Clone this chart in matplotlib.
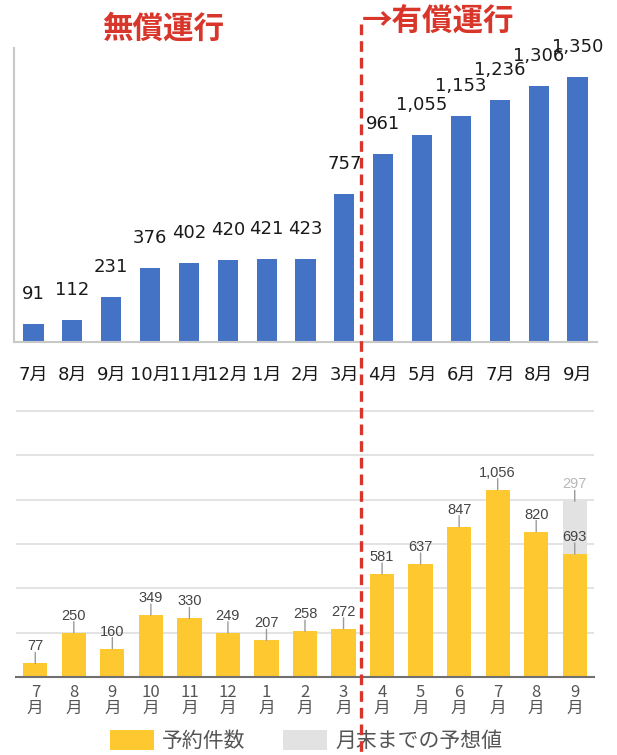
import matplotlib
matplotlib.use("Agg")
import matplotlib.pyplot as plt
from matplotlib.lines import Line2D
from matplotlib.patches import Patch

plt.rcParams['font.family'] = ['DejaVu Sans', 'Noto Sans CJK JP']

# Cumulative riders per month (upper chart)
months_top = ['7月', '8月', '9月', '10月', '11月', '12月', '1月', '2月', '3月',
              '4月', '5月', '6月', '7月', '8月', '9月']
cumulative = [91, 112, 231, 376, 402, 420, 421, 423, 757,
              961, 1055, 1153, 1236, 1306, 1350]

# Monthly bookings (lower chart)
months_num = ['7', '8', '9', '10', '11', '12', '1', '2', '3',
              '4', '5', '6', '7', '8', '9']
bookings = [77, 250, 160, 349, 330, 249, 207, 258, 272,
            581, 637, 847, 1056, 820, 693]
forecast = [0, 0, 0, 0, 0, 0, 0, 0, 0, 0, 0, 0, 0, 0, 297]

title_free = '無償運行'
title_paid = '→有償運行'
legend_labels = ['予約件数', '月末までの予想値']

BLUE = '#4472C4'
YELLOW = '#FDC830'
LIGHT = '#E2E2E2'
RED = '#D9362B'

W, H = 617, 755
fig = plt.figure(figsize=(W / 100, H / 100), dpi=100)


def box(x0, y0, x1, y1):
    """Axes rectangle from pixel coordinates (origin top-left)."""
    return [x0 / W, 1 - y1 / H, (x1 - x0) / W, (y1 - y0) / H]


x = list(range(len(months_top)))

# ---- upper chart: cumulative totals ----
ax1 = fig.add_axes(box(14, 48, 597, 342))
ax1.bar(x, cumulative, width=0.52, color=BLUE)
ax1.set_xlim(-0.5, len(x) - 0.5)
ax1.set_ylim(0, 1500)
for s in ('top', 'right'):
    ax1.spines[s].set_visible(False)
for s in ('left', 'bottom'):
    ax1.spines[s].set_color('#c8c8c8')
    ax1.spines[s].set_linewidth(1.5)
ax1.set_yticks([])
ax1.set_xticks(x)
ax1.set_xticklabels(months_top, fontsize=13, color='#1a1a1a')
ax1.tick_params(axis='x', length=0, pad=17)
for xi, v in zip(x, cumulative):
    ax1.annotate(f'{v:,}', xy=(xi, v), xytext=(0, 30), textcoords='offset pixels',
                 ha='center', va='center', fontsize=13, color='#1a1a1a')

# ---- lower chart: monthly bookings ----
ax2 = fig.add_axes(box(16, 410, 594, 677))
ax2.bar(x, bookings, width=0.63, color=YELLOW, zorder=2)
ax2.bar(x, forecast, bottom=bookings, width=0.63, color=LIGHT, zorder=2)
ax2.set_xlim(-0.5, len(x) - 0.5)
ax2.set_ylim(0, 1505)
ax2.set_yticks([250, 500, 750, 1000, 1250, 1500])
ax2.set_yticklabels([])
ax2.tick_params(axis='y', length=0)
ax2.grid(axis='y', color='#dedede', linewidth=1.2, zorder=0)
for s in ('top', 'right', 'left'):
    ax2.spines[s].set_visible(False)
ax2.spines['bottom'].set_color('#707070')
ax2.spines['bottom'].set_linewidth(1.5)
ax2.spines['bottom'].set_zorder(3)
ax2.set_xticks(x)
ax2.set_xticklabels([m + '\n月' for m in months_num], fontsize=12,
                    color='#555555', linespacing=0.95,
                    family=['Liberation Sans Narrow', 'Noto Sans CJK JP'])
ax2.tick_params(axis='x', length=0, pad=5)

label_font = ['Liberation Sans Narrow', 'Liberation Sans', 'DejaVu Sans']


def value_label(xi, top, text, color):
    ax2.annotate('', xy=(xi, top), xytext=(0, 11), textcoords='offset pixels',
                 arrowprops=dict(arrowstyle='-', color='#9a9a9a', lw=1,
                                 shrinkA=0, shrinkB=0), zorder=4)
    ax2.annotate(text, xy=(xi, top), xytext=(0, 17), textcoords='offset pixels',
                 ha='center', va='center', fontsize=10.5, color=color,
                 family=label_font, zorder=5)


for xi, b, f in zip(x, bookings, forecast):
    value_label(xi, b, f'{b:,}', '#444444')
    if f:
        value_label(xi, b + f, f'{f:,}', '#b8b8b8')

# ---- phase headings and divider ----
fig.text(102 / W, 1 - 29 / H, title_free, color=RED, fontsize=22, fontweight='bold',
         ha='left', va='center', family=['Noto Sans CJK JP'])
fig.text(362 / W, 1 - 22 / H, title_paid, color=RED, fontsize=22, fontweight='bold',
         ha='left', va='center', family=['Noto Sans CJK JP', 'DejaVu Sans'])
fig.add_artist(Line2D([361 / W, 361 / W], [1 - 24 / H, 0], color=RED, lw=2.4,
                      linestyle=(0, (3.2, 1.8)), zorder=10))

# ---- legend ----
handles = [Patch(facecolor=YELLOW, edgecolor='none'),
           Patch(facecolor=LIGHT, edgecolor='none')]
fig.legend(handles, legend_labels, loc='center', bbox_to_anchor=(306 / W, 1 - 741 / H),
           ncol=2, frameon=False, fontsize=15, handlelength=2.1, handleheight=1.1,
           handletextpad=0.4, columnspacing=1.8, labelcolor='#555555',
           prop={'family': ['Noto Sans CJK JP'], 'size': 15})

fig.savefig('out.png', dpi=100)
